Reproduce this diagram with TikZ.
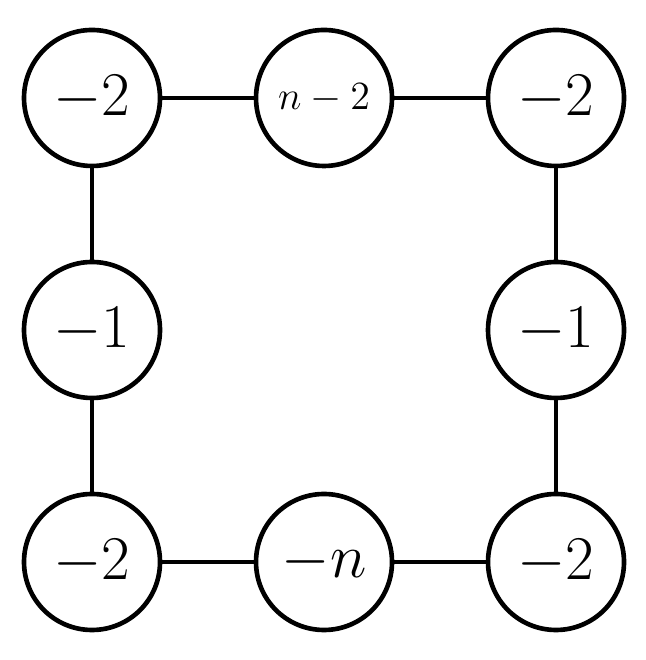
\RequirePackage{fix-cm}
\documentclass[tikz,border=0pt]{standalone}
\begin{document}
\begin{tikzpicture}[x=1pt,y=1pt,
  vert/.style={circle,draw,line width=1.85pt,minimum size=54.4pt,inner sep=0pt,
    font=\fontsize{24.88}{29}\selectfont},
  small/.style={font=\fontsize{16}{19}\selectfont},
  edge/.style={line width=1.85pt}]
\useasboundingbox (0,0) rectangle (258.4,264);
\node[vert] (a) at (36.8,224.8) {$-2$};
\node[vert,small] (b) at (129.6,224.8) {$n-2$};
\node[vert] (c) at (222.4,224.8) {$-2$};
\node[vert] (d) at (36.8,132) {$-1$};
\node[vert] (e) at (222.4,132) {$-1$};
\node[vert] (f) at (36.8,39.2) {$-2$};
\node[vert] (g) at (129.6,39.2) {$-n$};
\node[vert] (h) at (222.4,39.2) {$-2$};
\draw[edge] (a) -- (b);
\draw[edge] (b) -- (c);
\draw[edge] (a) -- (d);
\draw[edge] (d) -- (f);
\draw[edge] (c) -- (e);
\draw[edge] (e) -- (h);
\draw[edge] (f) -- (g);
\draw[edge] (g) -- (h);
\end{tikzpicture}
\end{document}
